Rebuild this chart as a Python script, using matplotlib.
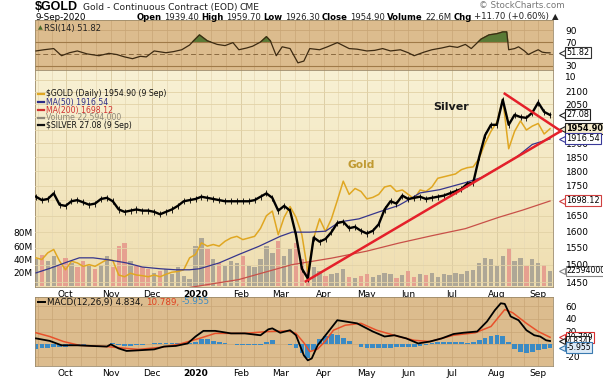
import numpy as np
import pandas as pd
import matplotlib
matplotlib.use("Agg")
import matplotlib.pyplot as plt
from matplotlib.ticker import NullLocator
from matplotlib.colors import LinearSegmentedColormap
import matplotlib.transforms as mtransforms

# trading sessions 10-Sep-2019 .. 9-Sep-2020, series sampled every 3rd session
days = pd.bdate_range("2019-09-10", "2020-09-09")
n = len(days)
sample = np.arange(0, n, 3)

gold = [1520, 1515, 1535, 1545, 1510, 1485, 1510, 1505, 1495, 1500,
        1495, 1505, 1515, 1512, 1470, 1465, 1475, 1470, 1468, 1465,
        1470, 1465, 1472, 1478, 1480, 1485, 1520, 1530, 1565, 1555,
        1560, 1555, 1570, 1580, 1585, 1575, 1580, 1585, 1610, 1650,
        1665, 1590, 1645, 1680, 1645, 1590, 1480, 1580, 1640, 1600,
        1640, 1700, 1765, 1720, 1740, 1730, 1705, 1710, 1720, 1745,
        1750, 1730, 1735, 1720, 1705, 1735, 1730, 1745, 1775, 1780,
        1785, 1790, 1805, 1812, 1815, 1845, 1900, 1945, 1980, 2070,
        1880, 1945, 1985, 1950, 1965, 1975, 1935, 1954.9]

silver = [18.1, 17.8, 17.9, 18.4, 17.4, 17.3, 17.7, 17.8, 17.6, 17.4,
          17.5, 17.9, 18.0, 17.7, 17.0, 16.8, 16.9, 17.0, 16.9, 16.9,
          16.8, 16.6, 16.8, 17.0, 17.3, 17.7, 17.8, 17.9, 18.1, 18.0,
          17.9, 17.8, 17.7, 17.7, 17.7, 17.7, 17.7, 17.8, 18.1, 18.4,
          18.0, 16.9, 17.3, 16.9, 15.0, 12.7, 12.1, 14.8, 14.5, 14.7,
          15.2, 15.9, 16.0, 15.5, 15.6, 15.3, 15.1, 15.3, 15.8, 17.0,
          17.7, 17.5, 18.2, 17.9, 18.0, 18.1, 17.9, 18.0, 18.1, 18.2,
          18.4, 18.6, 18.8, 19.3, 19.4, 22.0, 24.5, 25.8, 25.8, 29.2,
          25.8, 27.1, 26.8, 26.7, 27.4, 28.8, 27.5, 27.08]

volume = [40, 46, 38, 45, 30, 42, 35, 28, 38, 30,
          25, 32, 45, 28, 60, 65, 38, 30, 28, 26,
          20, 22, 25, 18, 28, 15, 10, 60, 72, 55,
          40, 35, 30, 38, 35, 45, 30, 28, 40, 60,
          50, 68, 45, 55, 65, 40, 35, 28, 22, 15,
          18, 20, 25, 14, 12, 15, 18, 14, 16, 20,
          18, 12, 16, 22, 14, 18, 16, 20, 14, 18,
          16, 20, 18, 22, 24, 35, 42, 40, 30, 45,
          57, 38, 42, 30, 40, 35, 32, 22.6]

ma50_day = [0, 7, 16, 22, 29, 37, 46, 54, 63, 71, 78, 83, 93, 103, 113, 124,
            130, 139, 147, 154, 164, 174, 184, 190, 195, 205, 218, 226, 235,
            244, 252, 261]
ma50 = [1476, 1489, 1508, 1520, 1520, 1514, 1505, 1493, 1488, 1485, 1485,
        1488, 1505, 1530, 1554, 1585, 1598, 1598, 1601, 1630, 1640, 1662,
        1683, 1705, 1725, 1736, 1760, 1777, 1812, 1850, 1896, 1916.54]

ma200_day = [75, 103, 130, 150, 168, 184, 201, 218, 235, 247, 261]
ma200 = [1432, 1457, 1500, 1519, 1540, 1564, 1587, 1609, 1645, 1668, 1698.12]

rsi_day = [0, 4, 9, 13, 17, 21, 26, 32, 37, 41, 45, 49, 53, 56, 60, 66, 70,
           74, 78, 80, 83, 87, 92, 96, 100, 103, 107, 110, 114, 117, 119, 122,
           125, 129, 133, 136, 139, 144, 148, 153, 156, 159, 163, 168, 172,
           176, 180, 185, 189, 192, 197, 201, 206, 210, 214, 218, 221, 226,
           230, 234, 237, 239, 240, 243, 245, 248, 250, 253, 255, 257, 259, 261]
rsi = [55, 57, 59, 47, 52, 55, 50, 47, 51, 49, 45, 42, 46, 45, 55, 52, 54,
       57, 65, 72, 82, 72, 66, 64, 69, 57, 60, 63, 70, 79, 72, 47,
       62, 59, 35, 38, 59, 57, 62, 69, 64, 59, 58, 55, 56,
       59, 55, 57, 52, 47, 53, 57, 60, 63, 61, 66, 59, 75,
       82, 84, 87, 87, 57, 59, 62, 55, 49, 54, 57, 53, 52, 51.82]

macd_day = [0, 7, 13, 21, 28, 36, 38, 42, 46, 52, 60, 65, 71, 77, 81, 85, 91,
            99, 106, 114, 118, 120, 124, 129, 132, 136, 138, 140, 143, 149,
            153, 157, 163, 171, 177, 182, 188, 194, 200, 206, 212, 217, 224,
            229, 233, 236, 238, 241, 245, 249, 253, 256, 259, 261]
macd = [9, 5, -2, -2, -3, -4, -0.5, -7, -11, -10, -8.5, -4, -3, 1, 12, 21, 21,
        17, 17, 14, 23.5, 25, 18, 22, 14, -18, -26, -23, -2, 22,
        38, 36, 33, 20, 12, 14, 9, 1, 4, 9, 16, 18, 20,
        36, 54, 65, 64, 44, 38, 22, 14, 12, 6, 4.834]

signal_day = [0, 7, 14, 22, 36, 46, 52, 64, 73, 83, 91, 106, 118, 128, 132,
              136, 139, 143, 147, 151, 157, 165, 173, 184, 192, 200, 212, 223,
              231, 238, 242, 249, 255, 261]
signal = [18, 12, 4, -2, -4, -7, -8.5, -5, 0, 9, 17, 17, 20, 21, 17,
          2, -12, -8, 5, 22, 30, 33, 22, 12, 6, 4, 14, 18,
          28, 55, 50, 33, 20, 10.789]

hist = [-8, -7, -6, -5, -5, -4, -3, -1, -1, 0,
        0, 0, 0, 2, -2, -3, -3, -2, -1, 0,
        1, 2, 2, 1, 1, 1, 1, 4, 8, 8,
        5, 3, 1, 0, -1, -1, -2, -2, -2, 4,
        6, 0, 0, -2, -6, -14, -22, -10, 8, 13,
        16, 15, 10, 5, 0, -4, -6, -7, -7, -6,
        -6, -5, -4, -4, -5, -3, -1, 2, 3, 4,
        4, 4, 3, 2, 3, 6, 10, 13, 14, 13,
        3, -8, -13, -15, -13, -10, -8, -5.955]

# hand-drawn trendlines (session, price)
tl_low_day, tl_low = [137, 266.5], [1452, 1946]
tl_high_day, tl_high = [238, 266.5], [2093, 1946]

W, H = 603, 378
fig = plt.figure(figsize=(W / 100, H / 100), dpi=100)
fig.patch.set_facecolor("white")
plt.rcParams["font.family"] = "DejaVu Sans"


def fx(px):
    return px / W


def fy(py):
    return 1 - py / H


L, R = 35, 553
tan = "#dcbc8e"
grid_c = "#c9a676"

month_start = [i for i in range(1, n) if days[i].month != days[i - 1].month]
month_lab = ["2020" if days[i].month == 1 else days[i].strftime("%b") for i in month_start]
edges = [month_start[0] - 21] + month_start + [month_start[-1] + 21]
minor = []
for a, b in zip(edges[:-1], edges[1:]):
    minor += [a + (b - a) / 3, a + 2 * (b - a) / 3]
minor = [m for m in minor if -0.5 < m < n]


def style_x(ax, labels):
    ax.set_xlim(-0.5, n + 0.5)
    ax.set_xticks(month_start)
    ax.set_xticks(minor, minor=True)
    ax.tick_params(axis="x", which="both", length=0, labelsize=6.5, pad=2)
    if labels:
        ax.set_xticklabels(month_lab)
        for t in ax.get_xticklabels():
            if t.get_text() == "2020":
                t.set_fontweight("bold")
    else:
        ax.set_xticklabels([])


def value_box(ax, y, s, edge, face="white", bold=False, size=5.9):
    tr = mtransforms.blended_transform_factory(ax.transAxes, ax.transData)
    ax.plot([1.017], [y], marker="<", ms=4.5, mfc=face, mec=edge, mew=0.8,
            transform=tr, clip_on=False, zorder=6)
    ax.text(1.026, y, s, transform=tr, fontsize=size, va="center", ha="left",
            fontweight="bold" if bold else "normal", clip_on=False, zorder=7,
            bbox=dict(boxstyle="square,pad=0.12", fc=face, ec=edge, lw=0.8))


# ---------------- RSI panel ----------------
ax_r = fig.add_axes([fx(L), fy(70), fx(R) - fx(L), 50 / H])
ax_r.set_facecolor(tan)
ax_r.plot(rsi_day, rsi, color="#3c2a12", lw=0.9, zorder=3)
r = np.array(rsi)
ax_r.fill_between(rsi_day, r, 70, where=r > 70, interpolate=True,
                  color="#5a7a36", zorder=2)
ax_r.set_ylim(23, 107)
style_x(ax_r, False)
ax_r.grid(axis="x", which="both", color=grid_c, lw=0.5)
ax_r.axhline(90, color=grid_c, lw=0.6)
ax_r.axhline(70, color="#a07a48", lw=0.8)
ax_r.axhline(30, color="#a07a48", lw=0.8)
ax_r.axhline(50, color="#8a6a40", lw=0.7, ls=(0, (5, 3)))
ax_r.yaxis.tick_right()
ax_r.set_yticks([30, 70, 90])
ax_r.tick_params(axis="y", length=0, labelsize=6.5, pad=9)
tr = mtransforms.blended_transform_factory(ax_r.transAxes, ax_r.transData)
ax_r.text(1.024, 10, "10", transform=tr, fontsize=6.5, va="center", clip_on=False)
value_box(ax_r, 51.82, "51.82", "#333333")
for s in ax_r.spines.values():
    s.set_color("#9c8a6a")
    s.set_linewidth(0.6)
ax_r.text(0.006, 0.9, "\u25b2", transform=ax_r.transAxes, fontsize=4.5,
          color="#4a6a2a", va="top")
ax_r.text(0.018, 0.92, "RSI(14) 51.82", transform=ax_r.transAxes, fontsize=6,
          va="top", color="#222222")

# ---------------- price panel ----------------
ax_v = fig.add_axes([fx(L), fy(287), fx(R) - fx(L), 217 / H])
grad = np.linspace(0, 1, 100).reshape(-1, 1)
bg = LinearSegmentedColormap.from_list("bg", ["#f8f1d4", "#efdeb0"])
ax_v.imshow(grad, extent=[0, 1, 0, 1], transform=ax_v.transAxes,
            aspect="auto", cmap=bg, zorder=0)
g = np.array(gold)
vol_col = ["#e6a090" if k > 0 and g[k] < g[k - 1] else "#aea796" for k in range(len(g))]
ax_v.bar(sample, volume, width=2.2, color=vol_col, zorder=2)
ax_v.set_ylim(-1.5, 325)
style_x(ax_v, True)
ax_v.grid(axis="x", which="major", color="#d9c9a0", lw=0.6)
ax_v.grid(axis="x", which="minor", color="#e6d9b6", lw=0.5)
ax_v.set_yticks([20, 40, 60, 80])
ax_v.set_yticklabels(["20M", "40M", "60M", "80M"])
ax_v.tick_params(axis="y", length=0, labelsize=6.5, pad=2)
for s in ax_v.spines.values():
    s.set_color("#9c8a6a")
    s.set_linewidth(0.6)

ax_p = ax_v.twinx()
ax_p.set_yscale("log")
ax_p.set_ylim(1436, 2192)
ax_p.yaxis.set_minor_locator(NullLocator())
levels = list(range(1450, 2151, 50))
shown = {1450, 1500, 1550, 1600, 1650, 1750, 1800, 1850, 1900, 2050, 2100}
ax_p.set_yticks(levels)
ax_p.set_yticklabels([str(v) if v in shown else "" for v in levels])
ax_p.tick_params(axis="y", length=0, labelsize=6.5, pad=9)
ax_p.grid(axis="y", color="#e2d2a6", lw=0.6)
ax_p.plot(sample, gold, color="#e0a722", lw=1.1, zorder=3)
ax_p.plot(ma200_day, ma200, color="#c85048", lw=0.9, zorder=4)
ax_p.plot(ma50_day, ma50, color="#36368c", lw=0.9, zorder=4)
for s in ax_p.spines.values():
    s.set_visible(False)

ax_s = ax_v.twinx()
ax_s.set_yscale("log")
ax_s.set_ylim(11.6, 33.8)
ax_s.set_yticks([])
ax_s.yaxis.set_minor_locator(NullLocator())
ax_s.plot(sample, silver, color="black", lw=1.7, zorder=3)
ax_s.vlines(sample, np.array(silver) * 0.985, np.array(silver) * 1.015,
            color="black", lw=0.6)
ax_s.plot(tl_low_day, tl_low, color="#e4202a", lw=1.8, transform=ax_p.transData,
          clip_on=False, zorder=5)
ax_s.plot(tl_high_day, tl_high, color="#e4202a", lw=1.8, transform=ax_p.transData,
          clip_on=False, zorder=5)
for s in ax_s.spines.values():
    s.set_visible(False)

value_box(ax_s, 27.08, "27.08", "#222222")
value_box(ax_p, 1954.9, "1954.90", "#222222", face="#f6eccc", bold=True)
value_box(ax_p, 1916.54, "1916.54", "#3a3a9a")
value_box(ax_p, 1698.12, "1698.12", "#d04040")
value_box(ax_v, 22.594, "22594000", "#888888", size=5.6)

span = fx(R) - fx(L)
ax_s.text(fx(433 - L) / span, 0.83, "Silver", transform=ax_s.transAxes,
          fontsize=8, fontweight="bold", color="#1a1a1a", va="center")
ax_s.text(fx(348 - L) / span, 0.56, "Gold", transform=ax_s.transAxes,
          fontsize=7.7, fontweight="bold", color="#c09a32", va="center")

legend = [("$GOLD (Daily) 1954.90 (9 Sep)", "#111111", "#e0a722", 94),
          ("MA(50) 1916.54", "#2c2c88", "#2c2c88", 102),
          ("MA(200) 1698.12", "#d03030", "#d03030", 110),
          ("Volume 22,594,000", "#8c8678", "#8c8678", 117.5),
          ("$SILVER 27.08 (9 Sep)", "#111111", "#111111", 125)]
for txt, c, ic, py in legend:
    fig.add_artist(plt.Line2D([fx(38), fx(44)], [fy(py), fy(py)], color=ic, lw=1.6))
    fig.text(fx(46), fy(py), txt, color=c, fontsize=5.6, va="center")

# ---------------- MACD panel ----------------
ax_m = fig.add_axes([fx(L), fy(366), fx(R) - fx(L), 69 / H])
ax_m.set_facecolor(tan)
ax_m.bar(sample, hist, width=2.4, color="#3a8ac4", zorder=2)
ax_m.plot(signal_day, signal, color="#e8502a", lw=1.1, zorder=3)
ax_m.plot(macd_day, macd, color="black", lw=1.3, zorder=4)
ax_m.set_ylim(-35, 75)
style_x(ax_m, True)
ax_m.grid(axis="x", which="both", color=grid_c, lw=0.5)
ax_m.yaxis.tick_right()
ax_m.set_yticks([-20, 0, 20, 40, 60])
ax_m.set_yticklabels(["-20", "", "20", "40", "60"])
ax_m.grid(axis="y", color=grid_c, lw=0.5)
ax_m.tick_params(axis="y", length=0, labelsize=6.5, pad=9)
for s in ax_m.spines.values():
    s.set_color("#9c8a6a")
    s.set_linewidth(0.6)
value_box(ax_m, 10.789, "10.789", "#d83030", size=5.5)
value_box(ax_m, 4.834, "4.834", "#222222", size=5.5)
value_box(ax_m, -5.955, "-5.955", "#3a7ab0", face="#dceaf6", size=5.5)

# ---------------- header texts ----------------
fig.canvas.draw()
rend = fig.canvas.get_renderer()


def run_text(x0, py, pieces, size, gap=2.5, family="DejaVu Sans"):
    x = x0
    for s, w, c in pieces:
        t = fig.text(fx(x), fy(py), s, fontsize=size, fontweight=w, color=c,
                     va="center", family=family)
        x += t.get_window_extent(renderer=rend).width + gap
    return x


x_end = run_text(35, 7, [("$GOLD", "bold", "black")], 9, family="Liberation Sans")
run_text(x_end + 2, 7.5, [("Gold - Continuous Contract (EOD)", "normal", "#222222"),
                          ("CME", "normal", "#222222")], 6.6)
fig.text(fx(35), fy(17), "9-Sep-2020", fontsize=6.3, va="center")
run_text(137, 17, [("Open", "bold", "black"), ("1939.40", "normal", "#222"),
                   ("High", "bold", "black"), ("1959.70", "normal", "#222"),
                   ("Low", "bold", "black"), ("1926.30", "normal", "#222"),
                   ("Close", "bold", "black"), ("1954.90", "normal", "#222"),
                   ("Volume", "bold", "black"), ("22.6M", "normal", "#222"),
                   ("Chg", "bold", "black"), ("+11.70 (+0.60%)", "normal", "#222"),
                   ("\u25b2", "normal", "#222")], 6.1, gap=2.3)
fig.text(fx(565), fy(6), "\u00a9 StockCharts.com", fontsize=6.3, color="#777777",
         ha="right", va="center")

fig.add_artist(plt.Line2D([fx(38), fx(45)], [fy(302), fy(302)], color="black", lw=1.4))
run_text(47, 302, [("MACD(12,26,9) 4.834,", "normal", "#111111"),
                   ("10.789,", "normal", "#e04020"),
                   ("-5.955", "normal", "#3a8ac4")], 6.3)

fig.savefig("out.png", dpi=100)
